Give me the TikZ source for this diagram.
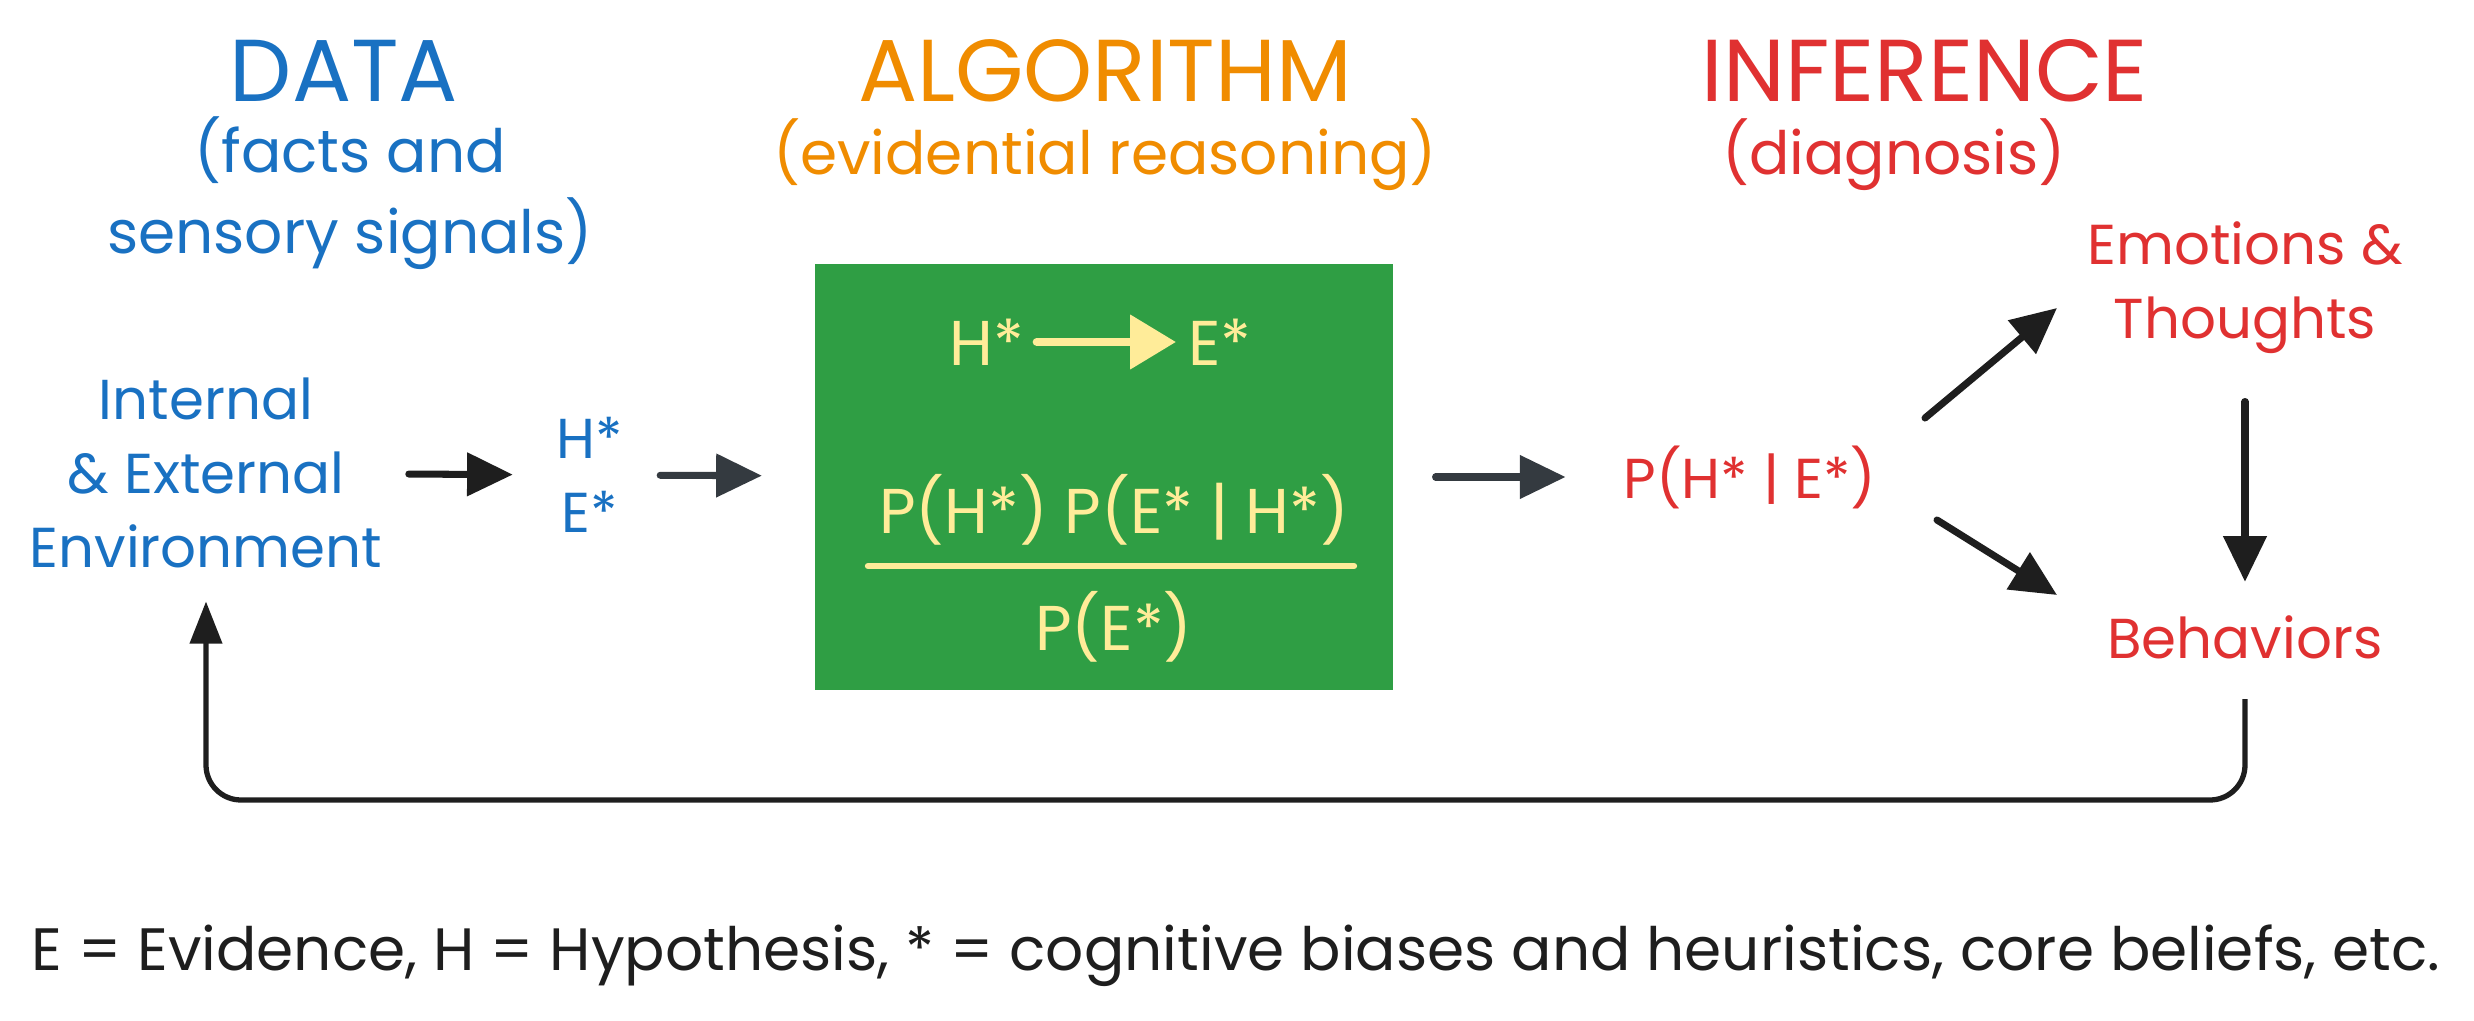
\documentclass[tikz,border=0pt]{standalone}
\usepackage{fontspec}
\setmainfont{Poppins}
\usetikzlibrary{arrows.meta}

\definecolor{datablue}{HTML}{1971C2}
\definecolor{algoorange}{HTML}{F08C00}
\definecolor{infred}{HTML}{E03131}
\definecolor{boxgreen}{HTML}{2F9E44}
\definecolor{chalk}{HTML}{FFEC99}
\definecolor{ink}{HTML}{1E1E1E}
\definecolor{slate}{HTML}{343A40}

\begin{document}
\begin{tikzpicture}[x=0.01cm,y=-0.01cm,
  head/.style={font=\fontsize{25}{30}\selectfont},
  sub/.style={font=\fontsize{17}{23}\selectfont,align=center},
  txt/.style={font=\fontsize{16}{21}\selectfont,align=center},
  boxtxt/.style={font=\fontsize{18}{21}\selectfont,chalk},
  arr/.style={ink,line width=2pt,line cap=round,-{Triangle[length=13pt,width=12pt]}},
  chalkarr/.style={chalk,line width=2.3pt,line cap=round,-{Triangle[length=13pt,width=15pt]}},
  back/.style={ink,line width=1.5pt,rounded corners=0.35cm,-{Triangle[length=12pt,width=9pt]}}]

\useasboundingbox (0,0) rectangle (2474,1021);

% headings
\node[head,datablue] (data) at (344,71) {DATA};
\node[sub,datablue] (datasub) at (350,193) {(facts and\\sensory signals)};
\node[head,algoorange] (algo) at (1105,71) {ALGORITHM};
\node[sub,algoorange] (algosub) at (1105,155) {(evidential reasoning)};
\node[head,infred] (inf) at (1925,71) {INFERENCE};
\node[sub,infred] (infsub) at (1894,155) {(diagnosis)};

% data side
\node[txt,datablue] (env) at (206,473) {Internal\\\& External\\Environment};
\node[txt,datablue] (hestar) at (590,475) {H*\\E*};

% green box
\node[fill=boxgreen,minimum width=5.77cm,minimum height=4.25cm] (box) at (1104,477) {};
\node[boxtxt] (hyp) at (987,342) {H*};
\node[boxtxt] (evi) at (1220,342) {E*};
\node[boxtxt] (num) at (1114,510) {P(H*) P(E* | H*)};
\node[boxtxt] (den) at (1114,627) {P(E*)};
\draw[chalk,line width=1.8pt,line cap=round] (868,566) -- (1354,566);

% inference side
\node[txt,infred] (post) at (1750,477) {P(H* | E*)};
\node[txt,infred] (emo) at (2245,288) {Emotions \&\\Thoughts};
\node[txt,infred] (beh) at (2245,637) {Behaviors};

% footnote
\node[font=\fontsize{17}{20}\selectfont,ink] (legend) at (1236,956) {E = Evidence, H = Hypothesis, * = cognitive biases and heuristics, core beliefs, etc.};

% arrows
\draw[chalkarr] (hyp) -- (evi);
\draw[arr,shorten <=4pt,shorten >=9pt] (env) -- (hestar);
\draw[arr,slate,shorten <=7pt,shorten >=15pt] (hestar) -- (box);
\draw[arr,slate,shorten <=12pt,shorten >=13pt] (box) -- (post);
\draw[arr] ([shift={(175,-59)}]post.center) -- ([shift={(-188,20)}]emo.center);
\draw[arr] ([shift={(187,43)}]post.center) -- ([shift={(-188,-42)}]beh.center);
\draw[arr,shorten <=10pt,shorten >=6pt] (emo) -- (beh);
\coordinate (low) at (1220,800);
\draw[back,shorten <=8pt,shorten >=6pt] (beh.south) |- (low) -| (env.south);

\end{tikzpicture}
\end{document}
